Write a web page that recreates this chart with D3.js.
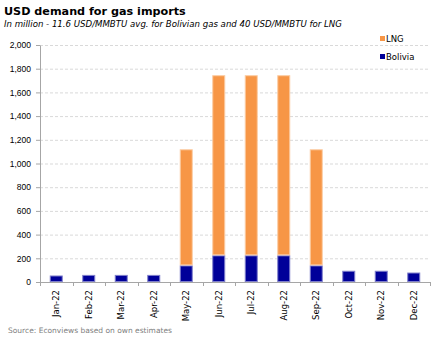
<!DOCTYPE html>
<html>
<head>
<meta charset="utf-8">
<script src="https://cdn.jsdelivr.net/npm/d3@7"></script>
<style>
  body { margin: 0; background: #fff; }
  svg { font-family: "DejaVu Sans", Verdana, sans-serif; }
</style>
</head>
<body>
<div id="chart"></div>
<script>
var months = ["Jan-22","Feb-22","Mar-22","Apr-22","May-22","Jun-22","Jul-22","Aug-22","Sep-22","Oct-22","Nov-22","Dec-22"];
var bolivia = [55, 60, 60, 60, 140, 225, 225, 225, 140, 95, 95, 80];
var lng = [0, 0, 0, 0, 980, 1520, 1520, 1520, 980, 0, 0, 0];
var yTicks = [0, 200, 400, 600, 800, 1000, 1200, 1400, 1600, 1800, 2000];
var seriesNames = ["Bolivia", "LNG"];
var seriesColors = ["#000099", "#F79646"];
var strokeColors = ["#8080cc", "#fbcba2"];

var W = 443, H = 340;
var margin = {top: 45, right: 13, bottom: 58, left: 40};
var width = W - margin.left - margin.right, height = H - margin.top - margin.bottom;

var root = d3.select("#chart").append("svg")
    .attr("width", W).attr("height", H);

root.append("text").attr("x", 4).attr("y", 15)
    .style("font-size", "11.2px").style("font-weight", "bold").attr("fill", "#000")
    .text("USD demand for gas imports");
root.append("text").attr("x", 4).attr("y", 27)
    .style("font-size", "8.6px").style("font-style", "italic").attr("fill", "#000")
    .text("In million - 11.6 USD/MMBTU avg. for Bolivian gas and 40 USD/MMBTU for LNG");
root.append("text").attr("x", 8).attr("y", 333)
    .style("font-size", "7.5px").attr("fill", "#808080")
    .text("Source: Econviews based on own estimates");

var svg = root.append("g")
    .attr("transform", "translate(" + margin.left + "," + margin.top + ")");

var x = d3.scaleBand().domain(months).range([0, width]).paddingInner(0.6).paddingOuter(0.3);
var y = d3.scaleLinear().domain([0, 2000]).range([height, 0]);

// gridlines
svg.append("g").selectAll("line").data(yTicks.slice(1)).enter().append("line")
    .attr("x1", 0).attr("x2", width)
    .attr("y1", function(d) { return y(d) + 0.5; })
    .attr("y2", function(d) { return y(d) + 0.5; })
    .attr("stroke", "#d9d9d9").attr("stroke-dasharray", "3,2");

var data = months.map(function(m, i) { return {month: m, Bolivia: bolivia[i], LNG: lng[i]}; });
var stacked = d3.stack().keys(seriesNames)(data);

svg.append("g").selectAll("g").data(stacked).enter().append("g")
    .attr("fill", function(d, i) { return seriesColors[i]; })
    .attr("stroke", function(d, i) { return strokeColors[i]; })
    .selectAll("rect")
    .data(function(d) { return d.filter(function(v) { return v[1] > v[0]; }); })
    .enter().append("rect")
    .attr("x", function(d) { return x(d.data.month) + 0.5; })
    .attr("y", function(d) { return y(d[1]) + 0.5; })
    .attr("height", function(d) { return y(d[0]) - y(d[1]) - 1; })
    .attr("width", x.bandwidth() - 1);

// y axis
var yAxis = svg.append("g")
    .call(d3.axisLeft(y).tickValues(yTicks).tickFormat(d3.format(",")).tickSize(4).tickSizeOuter(0));
yAxis.select(".domain").attr("stroke", "#a6a6a6");
yAxis.selectAll(".tick line").attr("stroke", "#a6a6a6");
yAxis.selectAll("text").style("font-size", "8.5px").attr("fill", "#000").attr("x", -9);

// x axis with ticks at band boundaries
var xg = svg.append("g").attr("transform", "translate(0," + height + ")");
xg.append("line").attr("x1", 0).attr("x2", width).attr("y1", 0.5).attr("y2", 0.5).attr("stroke", "#a6a6a6");
xg.selectAll(".bt").data(d3.range(months.length + 1)).enter().append("line")
    .attr("x1", function(i) { return Math.round(i * width / months.length) + 0.5; })
    .attr("x2", function(i) { return Math.round(i * width / months.length) + 0.5; })
    .attr("y1", 0).attr("y2", 4).attr("stroke", "#a6a6a6");
xg.selectAll(".lbl").data(months).enter().append("text")
    .attr("transform", function(d) { return "translate(" + (x(d) + x.bandwidth() / 2 + 3) + ",8) rotate(-90)"; })
    .attr("text-anchor", "end")
    .style("font-size", "8.5px").attr("fill", "#000")
    .text(function(d) { return d; });

// legend
var legend = root.append("g").attr("transform", "translate(380,0)");
var legendItems = [{name: "LNG", color: "#F79646", y: 39}, {name: "Bolivia", color: "#000099", y: 57}];
legend.selectAll("rect").data(legendItems).enter().append("rect")
    .attr("x", 0).attr("y", function(d) { return d.y - 3; })
    .attr("width", 5).attr("height", 5)
    .attr("fill", function(d) { return d.color; });
legend.selectAll("text").data(legendItems).enter().append("text")
    .attr("x", 6).attr("y", function(d) { return d.y + 3; })
    .style("font-size", "8.5px").attr("fill", "#000")
    .text(function(d) { return d.name; });
</script>
</body>
</html>
